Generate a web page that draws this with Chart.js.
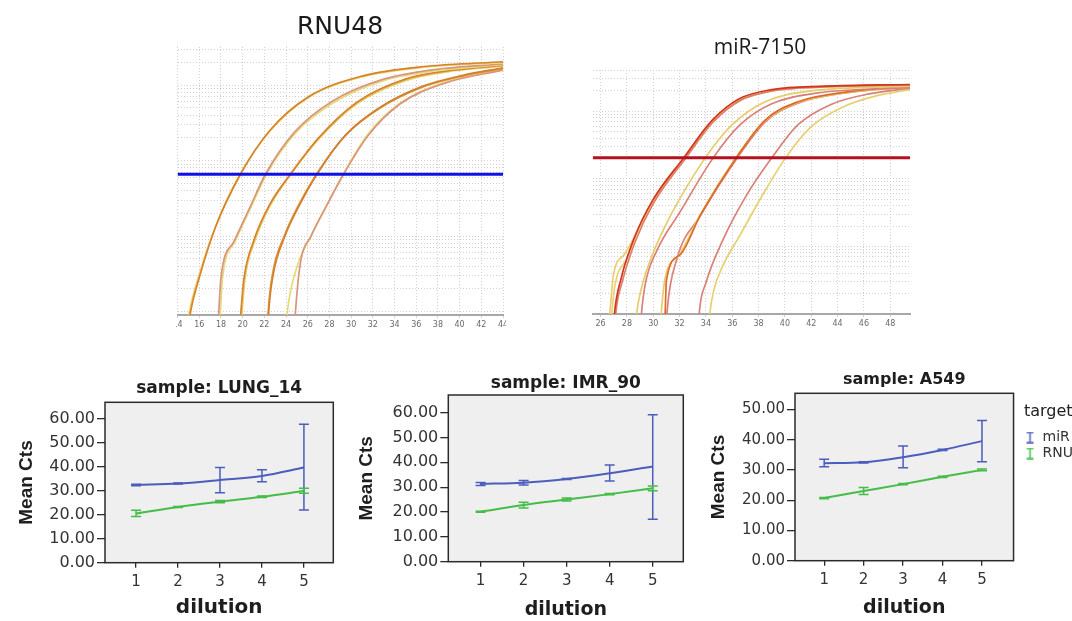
<!DOCTYPE html>
<html>
<head>
<meta charset="utf-8">
<title>RNU48 / miR-7150 amplification and dilution series</title>
<script src="https://cdn.jsdelivr.net/npm/chart.js@4.4.1/dist/chart.umd.min.js"></script>
<style>
  html, body { margin: 0; padding: 0; background: #fff; }
  body { width: 1072px; height: 621px; position: relative; overflow: hidden; }
  .panel { position: absolute; }
  /* the RNU48 plot is cut off at its first and last cycle labels */
  #rnuWrap { position: absolute; left: 176px; top: 0; width: 330px; height: 340px; overflow: hidden; }
  #rnuWrap canvas { position: absolute; left: -26px; top: 0; }
</style>
</head>
<body>
<div id="rnuWrap"><canvas id="rnuChart" width="380" height="340"></canvas></div>
<canvas id="mirChart" class="panel" width="400" height="340" style="left:560px;top:0"></canvas>
<canvas id="lungChart" class="panel" width="350" height="251" style="left:0;top:370px"></canvas>
<canvas id="imrChart" class="panel" width="350" height="251" style="left:350px;top:370px"></canvas>
<canvas id="a549Chart" class="panel" width="383" height="251" style="left:700px;top:370px"></canvas>

<script>
// ---- amplification curves, [cycle, fluorescence] ----
var rnuCycleTicks = [14, 16, 18, 20, 22, 24, 26, 28, 30, 32, 34, 36, 38, 40, 42, 44];
var rnuThreshold = 66;
var rnuDil1a = [[14.9,0.5],[15.2,1.0],[16.0,2.82],[17.5,13.2],[19.8,66],[22.5,251],[26.0,692],[31.0,1318],[37.0,1778],[44,2042]];
var rnuDil1b = [[14.8,0.5],[15.1,1.0],[15.95,2.95],[17.5,13.5],[19.75,66],[22.5,245],[26.0,676],[31.0,1288],[37.0,1738],[44,1995]];
var rnuDil2a = [[17.7,0.5],[17.8,1.0],[18.0,2.82],[19.2,8.51],[20.6,22.9],[22.1,66],[24.8,240],[28.3,617],[33.0,1202],[38.5,1660],[44,1905]];
var rnuDil2b = [[17.85,0.5],[17.95,1.0],[18.15,2.82],[19.3,8.51],[20.7,22.9],[22.2,66],[24.9,234],[28.4,589],[33.0,1148],[38.5,1585],[44,1862]];
var rnuDil3a = [[19.7,0.5],[19.84,1.0],[20.1,2.63],[21.0,8.51],[22.5,26.3],[24.4,66],[27.0,200],[30.5,589],[35.0,1202],[39.5,1585],[44,1820]];
var rnuDil3b = [[19.8,0.5],[19.95,1.0],[20.2,2.63],[21.1,8.51],[22.6,26.3],[24.45,66],[27.1,200],[30.6,575],[35.0,1148],[39.5,1549],[44,1778]];
var rnuDil4a = [[22.3,0.5],[22.4,1.0],[22.8,3.02],[23.9,10.0],[25.2,25.1],[26.85,66],[29.5,219],[32.6,501],[36.5,955],[40.3,1349],[44,1700]];
var rnuDil4b = [[22.25,0.5],[22.35,1.0],[22.75,3.16],[23.85,10.2],[25.15,25.7],[26.8,66],[29.45,214],[32.6,490],[36.5,933],[40.3,1318],[44,1660]];
var rnuDil5a = [[23.95,0.5],[24.07,0.87],[25.0,3.89],[26.3,10.0],[27.8,26.3],[29.26,66],[31.5,219],[34.5,575],[38.5,1072],[44,1622]];
var rnuDil5b = [[24.75,0.5],[24.84,0.87],[25.3,4.17],[26.3,10.0],[27.8,26.3],[29.3,66],[31.55,214],[34.5,562],[38.5,1047],[44,1585]];

var mirCycleTicks = [26, 28, 30, 32, 34, 36, 38, 40, 42, 44, 46, 48];
var mirThreshold = 204;
var mirDil1a = [[26.6,0.5],[26.7,1.0],[27.0,3.98],[27.8,7.59],[29.0,20],[30.25,52.5],[32.4,204],[34.5,692],[36.6,1445],[39.0,1995],[43.0,2291],[49.5,2455]];
var mirDil1b = [[26.75,0.5],[26.85,1.0],[27.1,2.69],[28.0,6.61],[29.0,20],[30.1,50.1],[32.4,200],[34.5,692],[36.6,1445],[39.0,1995],[43.0,2291],[49.5,2427]];
var mirDil1c = [[27.05,0.5],[27.15,1.0],[27.65,3.02],[28.65,12.0],[30.05,44.7],[32.45,200],[34.55,692],[36.6,1445],[39.0,1995],[43.0,2291],[49.5,2455]];
var mirDil1d = [[26.95,0.5],[27.05,1.0],[27.55,3.31],[28.55,13.2],[29.95,47.9],[32.35,209],[34.45,724],[36.5,1514],[39.0,2089],[43.0,2344],[49.5,2483]];
var mirDil2a = [[28.6,0.5],[28.73,1.0],[29.1,2.4],[29.9,7.24],[31.3,28.2],[33.95,204],[36.0,631],[38.5,1380],[42.0,1995],[49.5,2344]];
var mirDil2b = [[29.0,0.5],[29.1,1.0],[29.4,2.82],[30.3,8.91],[32.0,31.6],[34.55,204],[36.6,631],[39.0,1288],[42.5,1862],[49.5,2239]];
var mirDil3a = [[30.8,0.5],[30.9,1.0],[31.0,3.16],[32.0,7.41],[33.6,29.5],[36.3,204],[38.5,741],[41.0,1380],[44.9,1950],[49.5,2344]];
var mirDil3b = [[30.5,0.5],[30.6,1.0],[30.9,3.39],[32.0,7.59],[33.6,30.2],[36.3,209],[38.5,724],[41.0,1349],[44.9,1905],[49.5,2291]];
var mirDil3c = [[30.95,0.5],[31.06,1.15],[31.77,6.31],[33.6,28.8],[36.35,200],[38.55,708],[41.0,1318],[44.9,1905],[49.5,2291]];
var mirDil4a = [[33.4,0.5],[33.5,1.07],[34.0,2.88],[35.3,12.6],[37.0,53.7],[39.0,204],[41.0,631],[43.5,1259],[46.5,1820],[49.5,2188]];
var mirDil4b = [[34.2,0.5],[34.3,1.0],[34.6,2.24],[35.3,5.25],[36.6,14.8],[38.3,57.5],[40.05,204],[42.0,589],[44.5,1175],[47.0,1698],[49.5,2089]];

// ---- mean Ct per dilution, with error bar ends ----
var dilutions = [1, 2, 3, 4, 5];

var lungMir     = [32.3, 32.9, 34.4, 36.1, 39.6];
var lungMirLow  = [32.0, 32.7, 29.1, 33.7, 21.9];
var lungMirHigh = [32.6, 33.1, 39.6, 38.6, 57.6];
var lungRnu     = [20.4, 23.2, 25.4, 27.4, 29.8];
var lungRnuLow  = [19.2, 23.0, 24.9, 27.1, 28.9];
var lungRnuHigh = [21.8, 23.4, 25.9, 27.7, 31.0];

var imrMir     = [31.3, 31.8, 33.3, 35.6, 38.3];
var imrMirLow  = [30.7, 30.9, 33.1, 32.5, 17.1];
var imrMirHigh = [31.9, 32.7, 33.5, 38.9, 59.1];
var imrRnu     = [20.1, 22.8, 25.0, 27.2, 29.6];
var imrRnuLow  = [19.9, 21.6, 24.4, 26.9, 28.6];
var imrRnuHigh = [20.3, 23.9, 25.6, 27.5, 30.5];

var a549Mir     = [32.2, 32.5, 34.2, 36.6, 39.5];
var a549MirLow  = [31.0, 32.3, 30.7, 36.4, 32.7];
var a549MirHigh = [33.5, 32.7, 37.9, 36.8, 46.3];
var a549Rnu     = [20.7, 23.0, 25.3, 27.7, 30.0];
var a549RnuLow  = [20.5, 21.9, 25.1, 27.5, 29.7];
var a549RnuHigh = [20.9, 24.2, 25.5, 27.9, 30.3];

var ctTicks60 = [0, 10, 20, 30, 40, 50, 60];
var ctTicks50 = [0, 10, 20, 30, 40, 50];

var MIR_BLUE = '#4b5dbd';
var RNU_GREEN = '#45bd48';

window.onload = function() {

    Chart.defaults.font.family = '"DejaVu Sans", sans-serif';
    Chart.defaults.animation = false;

    function toPoints(pairs) {
        return pairs.map(function(p) { return {x: p[0], y: p[1]}; });
    }

    // 1..9 in every decade, used as the dotted log grid
    function logGrid(min, max) {
        var ticks = [];
        for (var p = Math.floor(Math.log10(min)); Math.pow(10, p) <= max; p++) {
            for (var k = 1; k < 10; k++) {
                var v = k * Math.pow(10, p);
                if (v >= min && v <= max) ticks.push({value: v});
            }
        }
        return ticks;
    }

    function curve(pairs, color) {
        return {
            data: toPoints(pairs),
            borderColor: color,
            borderWidth: 1.7,
            pointRadius: 0,
            cubicInterpolationMode: 'monotone'
        };
    }

    function ampChart(id, c) {
        var datasets = [{
            // threshold line goes first so it sits on top of the curves
            data: [{x: c.xMin, y: c.threshold}, {x: c.xMax, y: c.threshold}],
            borderColor: c.thresholdColor,
            borderWidth: 3,
            pointRadius: 0
        }].concat(c.curves);

        new Chart(document.getElementById(id), {
            type: 'line',
            data: {datasets: datasets},
            options: {
                responsive: false,
                devicePixelRatio: 1,
                events: [],
                layout: {padding: {left: 0, right: 0, top: 0, bottom: 0}},
                plugins: {
                    legend: {display: false},
                    tooltip: {enabled: false},
                    title: {
                        display: true,
                        text: c.title,
                        fullSize: true,
                        font: c.titleFont,
                        color: '#1a1a1a',
                        padding: c.titlePadding
                    }
                },
                scales: {
                    x: {
                        type: 'linear',
                        min: c.xMin,
                        max: c.xMax,
                        afterBuildTicks: function(s) {
                            s.ticks = c.xTicks.map(function(v) { return {value: v}; });
                        },
                        afterFit: function(s) { s.height = c.xAxisHeight; },
                        ticks: {
                            font: {size: 8},
                            color: '#6a6a6a',
                            padding: 2,
                            maxRotation: 0,
                            autoSkip: false,
                            callback: function(v) { return String(v); }
                        },
                        grid: {color: '#d0d0d0', lineWidth: 1, tickLength: 3},
                        border: {display: true, color: '#a8a8a8', width: 2, dash: [1, 2]}
                    },
                    y: {
                        type: 'logarithmic',
                        min: c.yMin,
                        max: c.yMax,
                        afterBuildTicks: function(s) { s.ticks = logGrid(c.yMin, c.yMax); },
                        afterFit: function(s) { s.width = c.leftSpace; },
                        ticks: {display: false},
                        grid: {color: '#d0d0d0', lineWidth: 1, drawTicks: false},
                        border: {display: false, dash: [1, 2]}
                    },
                    // empty strip on the right, only there to hold the margin
                    margin: {
                        type: 'linear',
                        position: 'right',
                        afterFit: function(s) { s.width = c.rightSpace; },
                        ticks: {display: false},
                        grid: {display: false},
                        border: {display: false}
                    }
                }
            }
        });
    }

    ampChart('rnuChart', {
        title: 'RNU48',
        titleFont: {family: '"DejaVu Sans"', size: 25, weight: 'normal'},
        titlePadding: {top: 12, bottom: 5},
        leftSpace: 27.6, rightSpace: 27,
        xAxisHeight: 25,
        xMin: 14, xMax: 44, xTicks: rnuCycleTicks,
        yMin: 0.9, yMax: 3200,
        threshold: rnuThreshold, thresholdColor: '#1010e8',
        curves: [
            curve(rnuDil1a, '#d8832c'), curve(rnuDil1b, '#e3d36a'),
            curve(rnuDil2a, '#d9957e'), curve(rnuDil2b, '#e4dc78'),
            curve(rnuDil3a, '#d8832c'), curve(rnuDil3b, '#e3cf66'),
            curve(rnuDil4a, '#d37f30'), curve(rnuDil4b, '#dd9a3a'),
            curve(rnuDil5b, '#d9957e'), curve(rnuDil5a, '#e3dc74')
        ]
    });

    ampChart('mirChart', {
        title: 'miR-7150',
        titleFont: {family: '"Open Sans"', size: 21, weight: 'normal'},
        titlePadding: {top: 35.4, bottom: 9.4},
        leftSpace: 32.7, rightSpace: 50,
        xAxisHeight: 26,
        xMin: 25.4, xMax: 49.5, xTicks: mirCycleTicks,
        yMin: 1, yMax: 4070,
        threshold: mirThreshold, thresholdColor: '#b3121f',
        curves: [
            curve(mirDil1d, '#d1361c'), curve(mirDil1c, '#dd7f6e'),
            curve(mirDil1a, '#e8cf6e'), curve(mirDil1b, '#ead27a'),
            curve(mirDil2a, '#e6cc6a'), curve(mirDil2b, '#d98078'),
            curve(mirDil3a, '#de6a2a'), curve(mirDil3b, '#e6cc6a'), curve(mirDil3c, '#d98078'),
            curve(mirDil4a, '#d98078'), curve(mirDil4b, '#e6d070')
        ]
    });

    // gray plot background and dark frame around the chart area
    var plotBox = {
        id: 'plotBox',
        beforeDraw: function(chart) {
            var a = chart.chartArea, ctx = chart.ctx;
            ctx.save();
            ctx.fillStyle = '#efefef';
            ctx.fillRect(a.left, a.top, a.right - a.left, a.bottom - a.top);
            ctx.restore();
        },
        afterDraw: function(chart) {
            var a = chart.chartArea, ctx = chart.ctx;
            ctx.save();
            ctx.strokeStyle = '#2b2b2b';
            ctx.lineWidth = 1.5;
            ctx.strokeRect(a.left, a.top, a.right - a.left, a.bottom - a.top);
            ctx.restore();
        }
    };

    // vertical bars with caps, from each dataset's errLow / errHigh
    var errorBars = {
        id: 'errorBars',
        afterDatasetsDraw: function(chart) {
            var ctx = chart.ctx, xs = chart.scales.x, ys = chart.scales.y;
            chart.data.datasets.forEach(function(ds) {
                if (!ds.errLow) return;
                ctx.save();
                ctx.strokeStyle = ds.borderColor;
                ctx.lineWidth = 1.5;
                ds.data.forEach(function(pt, i) {
                    var px = xs.getPixelForValue(pt.x);
                    var top = ys.getPixelForValue(ds.errHigh[i]);
                    var bot = ys.getPixelForValue(ds.errLow[i]);
                    ctx.beginPath();
                    ctx.moveTo(px, top); ctx.lineTo(px, bot);
                    ctx.moveTo(px - 5, top); ctx.lineTo(px + 5, top);
                    ctx.moveTo(px - 5, bot); ctx.lineTo(px + 5, bot);
                    ctx.stroke();
                });
                ctx.restore();
            });
        }
    };

    // small I-shaped marker for the legend, set a little right of its box centre
    function barIcon(color) {
        var c = document.createElement('canvas');
        c.width = 20; c.height = 12;
        var g = c.getContext('2d');
        g.strokeStyle = color;
        g.lineWidth = 1.5;
        g.beginPath();
        g.moveTo(14.5, 1); g.lineTo(14.5, 11);
        g.moveTo(11, 1); g.lineTo(18, 1);
        g.moveTo(11, 11); g.lineTo(18, 11);
        g.stroke();
        return c;
    }

    function series(label, values, low, high, color) {
        return {
            label: label,
            data: dilutions.map(function(d, i) { return {x: d, y: values[i]}; }),
            errLow: low,
            errHigh: high,
            borderColor: color,
            backgroundColor: color,
            borderWidth: 2,
            pointRadius: 0,
            pointStyle: barIcon(color),
            cubicInterpolationMode: 'monotone'
        };
    }

    function dilutionChart(id, c) {
        new Chart(document.getElementById(id), {
            type: 'line',
            data: {
                datasets: [
                    series('miR', c.mir, c.mirLow, c.mirHigh, MIR_BLUE),
                    series('RNU', c.rnu, c.rnuLow, c.rnuHigh, RNU_GREEN)
                ]
            },
            plugins: [plotBox, errorBars],
            options: {
                responsive: false,
                devicePixelRatio: 1,
                events: [],
                layout: {padding: {left: 0, right: c.rightPad, top: 0, bottom: 0}},
                plugins: {
                    tooltip: {enabled: false},
                    title: {
                        display: true,
                        text: c.title,
                        fullSize: false,
                        font: {size: c.titleSize, weight: 'bold'},
                        color: '#1e1e1e',
                        padding: c.titlePadding
                    },
                    legend: c.legend ? {
                        display: true,
                        position: 'right',
                        align: 'start',
                        fullSize: false,
                        title: {
                            display: true,
                            text: 'target',
                            position: 'center',
                            color: '#222',
                            font: {size: 16},
                            padding: {top: 11, bottom: 5}
                        },
                        labels: {
                            usePointStyle: true,
                            pointStyleWidth: 20,
                            color: '#333',
                            font: {size: 14},
                            padding: 2
                        }
                    } : {display: false}
                },
                scales: {
                    x: {
                        type: 'linear',
                        min: c.xMin,
                        max: c.xMax,
                        afterBuildTicks: function(s) {
                            s.ticks = dilutions.map(function(v) { return {value: v}; });
                        },
                        afterFit: function(s) { s.height = c.xAxisHeight; },
                        ticks: {
                            font: {size: 15},
                            color: '#333',
                            padding: 5,
                            maxRotation: 0,
                            callback: function(v) { return String(v); }
                        },
                        grid: {drawOnChartArea: false, tickLength: 5, color: '#2b2b2b', lineWidth: 1.3},
                        border: {display: false},
                        title: {
                            display: true,
                            text: 'dilution',
                            color: '#1e1e1e',
                            font: {size: c.xTitleSize, weight: 'bold'},
                            padding: {top: 2, bottom: c.xTitlePad}
                        }
                    },
                    y: {
                        min: 0,
                        max: c.yMax,
                        afterBuildTicks: function(s) {
                            s.ticks = c.yTicks.map(function(v) { return {value: v}; });
                        },
                        afterFit: function(s) { s.width = c.yAxisWidth; },
                        ticks: {
                            font: {size: c.yTickSize},
                            color: '#333',
                            padding: 2,
                            callback: function(v) { return v.toFixed(2); }
                        },
                        grid: {drawOnChartArea: false, tickLength: 8, color: '#2b2b2b', lineWidth: 1.3},
                        border: {display: false},
                        title: {
                            display: true,
                            text: 'Mean Cts',
                            color: '#1e1e1e',
                            font: {family: '"Liberation Sans", Arial, sans-serif', size: 19, weight: 'bold'},
                            padding: {top: c.yTitlePad, bottom: 0}
                        }
                    }
                }
            }
        });
    }

    dilutionChart('lungChart', {
        title: 'sample: LUNG_14', titleSize: 17, titlePadding: {top: 8.1, bottom: 3.8},
        mir: lungMir, mirLow: lungMirLow, mirHigh: lungMirHigh,
        rnu: lungRnu, rnuLow: lungRnuLow, rnuHigh: lungRnuHigh,
        xMin: 0.26, xMax: 5.7, yMax: 66.7, yTicks: ctTicks60, yTickSize: 16,
        yAxisWidth: 105, yTitlePad: 15.6, rightPad: 16.7,
        xAxisHeight: 58.3, xTitleSize: 20, xTitlePad: 1
    });

    dilutionChart('imrChart', {
        title: 'sample: IMR_90', titleSize: 17, titlePadding: {top: 3.1, bottom: 1.5},
        mir: imrMir, mirLow: imrMirLow, mirHigh: imrMirHigh,
        rnu: imrRnu, rnuLow: imrRnuLow, rnuHigh: imrRnuHigh,
        xMin: 0.25, xMax: 5.71, yMax: 67.1, yTicks: ctTicks60, yTickSize: 16,
        yAxisWidth: 98.3, yTitlePad: 5.3, rightPad: 16.7,
        xAxisHeight: 59.3, xTitleSize: 19, xTitlePad: 0
    });

    dilutionChart('a549Chart', {
        title: 'sample: A549', titleSize: 16, titlePadding: {top: 0.4, bottom: 3.7},
        mir: a549Mir, mirLow: a549MirLow, mirHigh: a549MirHigh,
        rnu: a549Rnu, rnuLow: a549RnuLow, rnuHigh: a549RnuHigh,
        xMin: 0.26, xMax: 5.8, yMax: 55.3, yTicks: ctTicks50, yTickSize: 15,
        yAxisWidth: 95, yTitlePad: 7.6, rightPad: 0,
        xAxisHeight: 60.3, xTitleSize: 19, xTitlePad: 1.6,
        legend: true
    });
};
</script>
</body>
</html>
